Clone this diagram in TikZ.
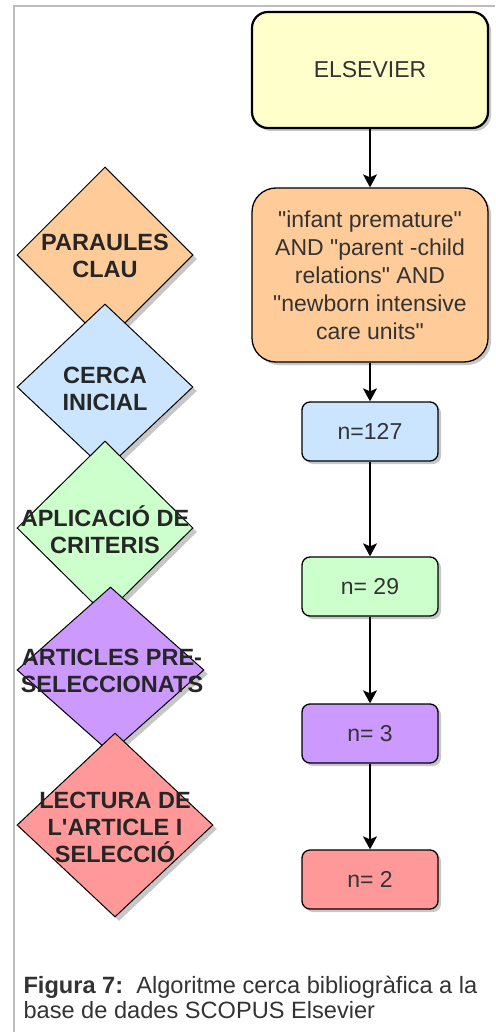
\documentclass[tikz,border=0pt]{standalone}
\usepackage{fontspec}
\setmainfont{Liberation Sans}
\usepackage{xcolor}
\usetikzlibrary{calc}
\usetikzlibrary{positioning}
\usetikzlibrary{shapes.geometric}
\usetikzlibrary{shadows}
\usetikzlibrary{arrows.meta}
\definecolor{custom-yellow}{RGB}{255, 255, 204}
\definecolor{custom-orange}{RGB}{255, 204, 153}
\definecolor{custom-blue}{RGB}{204, 229, 255}
\definecolor{custom-green}{RGB}{204, 255, 204}
\definecolor{custom-purple}{RGB}{204, 153, 255}
\definecolor{custom-red}{RGB}{255, 153, 153}
\definecolor{custom-text}{RGB}{51, 51, 51}
\definecolor{custom-frame}{RGB}{190, 190, 190}

\begin{document}
\begin{tikzpicture}[x=1pt, y=-1pt,
    box/.style={draw=black, line width=1.3pt, rounded corners=8pt, text=custom-text, align=center,
        font=\fontsize{23}{28}\selectfont, minimum width=136pt, minimum height=59pt,
        drop shadow={shadow xshift=3pt, shadow yshift=-3pt, fill=black, opacity=0.22}},
    rhombus/.style={draw=black, line width=1pt, shape=diamond, inner sep=0pt,
        drop shadow={shadow xshift=4pt, shadow yshift=-4pt, fill=black, opacity=0.22}},
    rhombustext/.style={align=center, text=black!85, font=\fontsize{23.5}{27}\selectfont\bfseries},
    flow/.style={-{Stealth[length=13pt, width=14pt, inset=3pt]}, line width=1.3pt}]
\useasboundingbox (0,0) rectangle (495,1032);
\draw[custom-frame, line width=1.5pt] (14,1032) -- (14,6) -- (495,6);

\node[rhombus, fill=custom-orange, minimum width=176pt, minimum height=176pt] (paraules) at (105,255) {};
\node[rhombus, fill=custom-blue, minimum width=176pt, minimum height=166pt] (cerca) at (105,387) {};
\node[rhombus, fill=custom-green, minimum width=176pt, minimum height=174pt] (aplicacio) at (105,528) {};
\node[rhombus, fill=custom-purple, minimum width=187pt, minimum height=166pt] (articles) at (110.5,670) {};
\node[rhombus, fill=custom-red, minimum width=196pt, minimum height=184pt] (lectura) at (115,825) {};

\node[rhombustext] (paraules-text) at (105,256) {PARAULES\\CLAU};
\node[rhombustext] (cerca-text) at (105,389) {CERCA\\INICIAL};
\node[rhombustext] (aplicacio-text) at (105,530) {APLICACIÓ DE\\CRITERIS};
\node[rhombustext] (articles-text) at (112,671) {ARTICLES PRE-\\SELECCIONATS};
\node[rhombustext] (lectura-text) at (115,827) {LECTURA DE\\L\textquotesingle ARTICLE I\\SELECCIÓ};

\node[box, fill=custom-yellow, line width=2.2pt, rounded corners=16pt, minimum width=236pt, minimum height=116pt] (elsevier) at (370,70) {ELSEVIER};
\node[box, fill=custom-orange, rounded corners=24pt, minimum width=236pt, minimum height=174pt] (keywords) at (370,275)
    {\textquotedbl infant premature\textquotedbl\\AND \textquotedbl parent -child\\relations\textquotedbl\ AND\\\textquotedbl newborn intensive\\care units\textquotedbl};
\node[box, fill=custom-blue] (initial) at (370,431.5) {n=127};
\node[box, fill=custom-green] (criteria) at (370,586.5) {n= 29};
\node[box, fill=custom-purple] (preselected) at (370,733.5) {n= 3};
\node[box, fill=custom-red] (selected) at (370,879.5) {n= 2};

\draw[flow] (elsevier) -- (keywords);
\draw[flow] (keywords) -- (initial);
\draw[flow] (initial) -- (criteria);
\draw[flow] (criteria) -- (preselected);
\draw[flow] (preselected) -- (selected);

\node[anchor=west, align=left, text=custom-text, font=\fontsize{23.6}{25}\selectfont] (caption) at (20,997)
    {\textbf{Figura 7:}\ \ Algoritme cerca bibliogràfica a la\\base de dades SCOPUS Elsevier};
\end{tikzpicture}
\end{document}
